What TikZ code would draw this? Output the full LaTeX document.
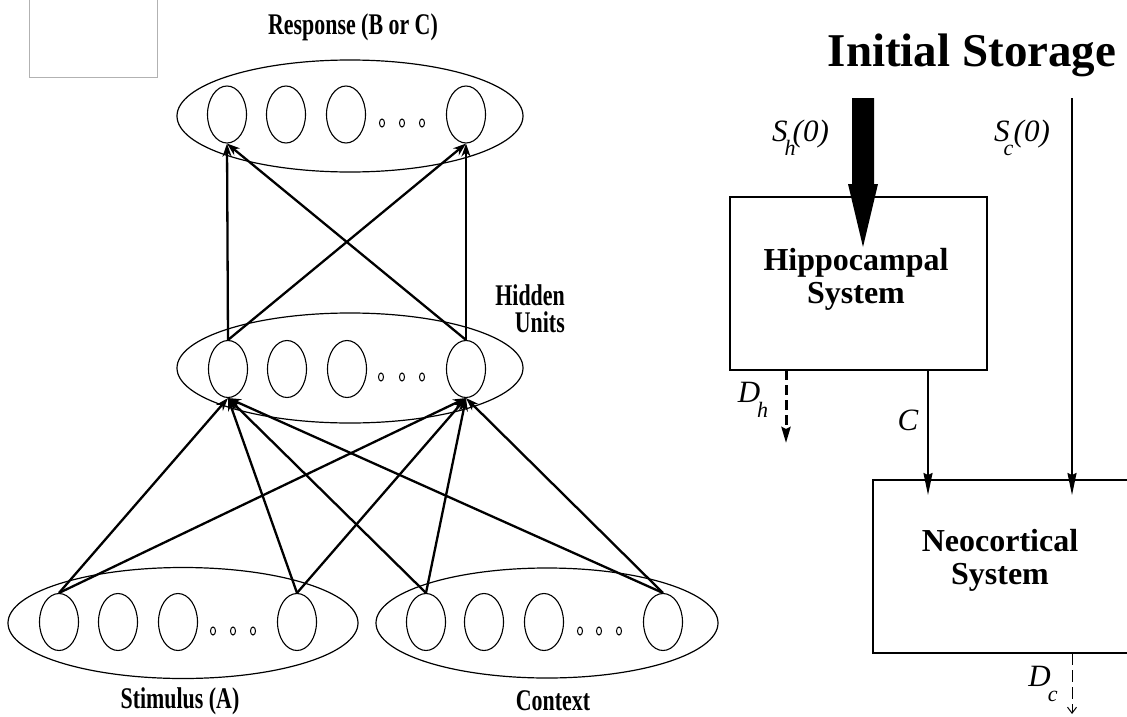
\documentclass[tikz,border=0pt]{standalone}
\usepackage{fontspec}
\setmainfont{Liberation Serif}
\newfontfamily\condfont[FakeStretch=0.73]{Liberation Serif}
\usetikzlibrary{shapes.geometric,arrows.meta,calc}
\begin{document}
\begin{tikzpicture}[x=1pt,y=-1pt,
  unit/.style={ellipse, draw, line width=1.1pt, minimum width=39pt, minimum height=57pt, inner sep=0pt},
  tinydot/.style={ellipse, draw, line width=1pt, minimum width=5pt, minimum height=8pt, inner sep=0pt},
  layer/.style={ellipse, draw, line width=1.2pt, inner sep=0pt},
  net/.style={line width=2.3pt, -{Stealth[length=13pt,width=9pt]}},
  lbl/.style={font=\condfont\bfseries\fontsize{30}{27}\selectfont, inner sep=0pt},
  boxlbl/.style={font=\bfseries\fontsize{32}{33}\selectfont, align=center, inner sep=0pt},
  ital/.style={font=\itshape\fontsize{31}{31}\selectfont, inner sep=0pt},
  subs/.style={font=\itshape\fontsize{22}{22}\selectfont},
  sysbox/.style={draw, line width=1.2pt, rectangle, inner sep=0pt},
  arr/.style={line width=1.8pt, -{Stealth[length=22pt,width=9pt,inset=2pt]}}]
\clip (0,0) rectangle (1127,717);
\fill[white] (0,0) rectangle (1127,717);
% grey box top-left
\draw[black!30, line width=1pt] (29,-2) rectangle (157,78);

% layers
\node[layer, minimum width=346pt, minimum height=112pt] (resp) at (350,116) {};
\node[layer, minimum width=346pt, minimum height=110pt] (hid) at (350,368) {};
\node[layer, minimum width=350pt, minimum height=111pt] (stim) at (183,623) {};
\node[layer, minimum width=342pt, minimum height=110pt] (ctx) at (547,623) {};

% response units
\node[unit] (r1) at (227,114.5) {};
\node[unit] (r2) at (286,114.5) {};
\node[unit] (r3) at (346,114.5) {};
\node[unit] (r4) at (466,114.5) {};
\node[tinydot] (rd1) at (382,123) {};
\node[tinydot] (rd2) at (402,123) {};
\node[tinydot] (rd3) at (422,123) {};
% hidden units
\node[unit] (h1) at (228,369) {};
\node[unit] (h2) at (287,369) {};
\node[unit] (h3) at (347,369) {};
\node[unit] (h4) at (466,369) {};
\node[tinydot] (hd1) at (381,377) {};
\node[tinydot] (hd2) at (402,377) {};
\node[tinydot] (hd3) at (422,377) {};
% stimulus units
\node[unit] (s1) at (59,622) {};
\node[unit] (s2) at (118,622) {};
\node[unit] (s3) at (178,622) {};
\node[unit] (s4) at (297,622) {};
\node[tinydot] (sd1) at (213,631) {};
\node[tinydot] (sd2) at (233,631) {};
\node[tinydot] (sd3) at (253,631) {};
% context units
\node[unit] (c1) at (426,622) {};
\node[unit] (c2) at (484,622) {};
\node[unit] (c3) at (544,622) {};
\node[unit] (c4) at (663,622) {};
\node[tinydot] (cd1) at (580,631) {};
\node[tinydot] (cd2) at (599,631) {};
\node[tinydot] (cd3) at (619,631) {};

% connections hidden -> response
\draw[net] (h1.north) -- (r1.south);
\draw[net] (h1.north) -- (r4.south);
\draw[net] (h4.north) -- (r1.south);
\draw[net] (h4.north) -- (r4.south);
% input -> hidden
\foreach \src in {s1,s4,c1,c4}{
  \draw[net] (\src.north) -- (h1.south);
  \draw[net] (\src.north) -- (h4.south);
}

% labels left
\node[lbl] (tresp) at (353,27) {Response (B or C)};
\node[lbl, align=right, anchor=east] (thid) at (565,309) {Hidden\\Units};
\node[lbl] (tstim) at (180,701) {Stimulus (A)};
\node[lbl] (tctx) at (553,701) {Context};

% right side
\node[font=\bfseries\fontsize{47}{47}\selectfont, inner sep=0pt] (tinit) at (972,55) {Initial Storage};
\node[sysbox, minimum width=257pt, minimum height=173pt] (hip) at (858.5,283.5) {};
\node[boxlbl] (hiptext) at (856,279) {Hippocampal\\System};
\node[sysbox, minimum width=267pt, minimum height=173pt] (neo) at (1006.5,566.5) {};
\node[boxlbl] (neotext) at (1000,560) {Neocortical\\System};

% thick arrow S_h(0)
\coordinate (shtop) at (863,98);
\coordinate (shtip) at (863,247);
\fill ($(shtop)+(-11,0)$) -- ($(shtop)+(11,0)$) -- ($(shtip)+(11,-63)$) -- ($(shtip)+(15,-63)$)
   -- (shtip) -- ($(shtip)+(-15,-63)$) -- ($(shtip)+(-11,-63)$) -- cycle;
\node[ital, anchor=west] (lsh) at (772,138) {S\kern-3pt\rlap{\raisebox{-14pt}{\fontsize{22}{22}\selectfont h}}\kern8pt(0)};

% S_c(0)
\coordinate (sctop) at (1072,98);
\coordinate (scend) at (1072,495);
\draw[arr] (sctop) -- (scend);
\node[ital, anchor=west] (lsc) at (994,138) {S\kern-6pt\rlap{\raisebox{-14pt}{\fontsize{22}{22}\selectfont c}}\kern10pt(0)};

% C
\coordinate (ctop) at (928,370);
\coordinate (cend) at (928,495);
\draw[arr] (ctop) -- (cend);
\node[ital] (lc) at (908,420) {C};

% D_h
\coordinate (dhtop) at (786,370);
\coordinate (dhend) at (786,443);
\draw[line width=3pt, dash pattern=on 10pt off 5pt, -{Stealth[length=16pt,width=9pt,inset=2pt]}] (dhtop) -- (dhend);
\node[ital] (ldh) at (753,400) {D\kern-3pt\raisebox{-15pt}{\fontsize{22}{22}\selectfont h}};

% D_c
\coordinate (dctop) at (1072,653);
\coordinate (dcend) at (1072,714);
\draw[line width=1pt, dash pattern=on 12pt off 5pt, -{Straight Barb[length=6pt,width=9pt]}] (dctop) -- (dcend);
\node[ital] (ldc) at (1043,684) {D\kern-3pt\raisebox{-15pt}{\fontsize{22}{22}\selectfont c}};
\end{tikzpicture}
\end{document}
